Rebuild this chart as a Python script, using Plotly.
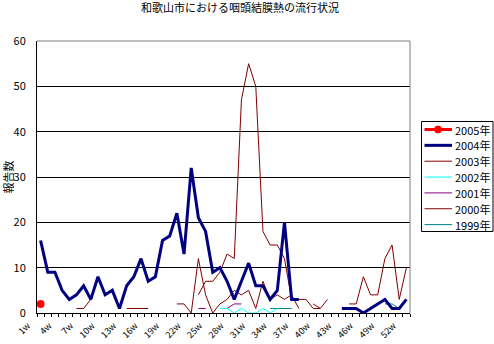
import plotly.graph_objects as go

weeks = list(range(1, 53))
week_labels = [f"{w}w" for w in weeks]
tick_weeks = weeks[::3]
tick_text = [week_labels[w - 1] for w in tick_weeks]

y2005 = [2] + [None] * 51
y2004 = [16, 9, 9, 5, 3, 4, 6, 3, 8, 4,
         5, 1, 6, 8, 12, 7, 8, 16, 17, 22,
         13, 32, 21, 18, 9, 10, 7, 3, 7, 11,
         6, 6, 3, 5, 20, 3, 3, None, None, None,
         None, None, 1, 1, 1, 0, 1, 2, 3, 1,
         1, 3]
y2003 = ([None] * 22 + [4, 7, 7, 9, 13, 12, 47, 55, 50, 18,
                        15, 15, 12, 3, 3, 3, 1, 1, 3] + [None] * 11)
y2002 = [None] * 25 + [1, 1, 0, 1, 0, 0, 1, 0, 1] + [None] * 18
y2001 = [None] * 22 + [1, 1, None, None, 1, 2, 2] + [None] * 23
y2000 = ([None] * 5 + [1, 1, 3] + [None] * 4 + [1, 1, 1, 1] + [None] * 3
         + [2, 2, 0, 12, 4, 0, 2, 3, 5, 4, 5, 1, 7, 3, 4, 3, 4, 1]
         + [None] + [2, 1] + [None] * 3 + [2, 2, 8, 4, 4, 12, 15, 3, 10])
y1999 = [None] * 32 + [1, 1, 1, 1] + [None] * 12 + [2, 2, 1] + [None]

# legend order (top to bottom)
series = [
    ("2005年", y2005, "#FF0000", 3, True),
    ("2004年", y2004, "#000080", 3, False),
    ("2003年", y2003, "#800000", 1, False),
    ("2002年", y2002, "#00FFFF", 1, False),
    ("2001年", y2001, "#800080", 1, False),
    ("2000年", y2000, "#800000", 1, False),
    ("1999年", y1999, "#008080", 1, False),
]

FONT = "Noto Sans CJK JP"
W, H = 494, 344
ML, MR, MT, MB = 37, 84, 41, 31
PW, PH = W - ML - MR, H - MT - MB


def px_x(px):
    return (px - ML) / PW


def px_y(py):
    return (H - MB - py) / PH


fig = go.Figure()
# draw older years first so recent years sit on top
for name, ys, color, width, mk in reversed(series):
    fig.add_trace(go.Scatter(
        x=weeks, y=ys, name=name,
        mode="lines+markers" if mk else "lines",
        line=dict(color=color, width=width),
        marker=dict(color=color, size=8, symbol="circle") if mk else None,
        connectgaps=False, showlegend=False,
    ))

fig.update_layout(
    width=W, height=H,
    margin=dict(l=ML, r=MR, t=MT, b=MB, autoexpand=False),
    paper_bgcolor="white", plot_bgcolor="white",
    font=dict(family=FONT, size=11, color="black"),
    title=dict(text="和歌山市における咽頭結膜熱の流行状況",
               x=0.486, xanchor="center", y=1 - 8 / H, yanchor="middle",
               yref="container",
               font=dict(family=FONT, size=11, color="black")),
    showlegend=False,
)

fig.update_xaxes(
    range=[0.5, 52.5], automargin=False,
    tickmode="array", tickvals=tick_weeks, ticktext=tick_text,
    tickangle=-45, ticks="",
    ticklabelshift=-13, ticklabelstandoff=3,
    tickfont=dict(family=FONT, size=9, color="black"),
    showline=True, linecolor="black", linewidth=1,
    showgrid=False, zeroline=False,
    minor=dict(tickmode="linear", tick0=0.5, dtick=1, ticks="outside",
               ticklen=3, tickcolor="black", tickwidth=1, showgrid=False),
)
fig.update_yaxes(
    range=[0, 60], dtick=10, tick0=0, automargin=False,
    showgrid=True, gridcolor="black", gridwidth=1,
    showline=True, linecolor="black", linewidth=1,
    zeroline=False, ticks="", ticklabelstandoff=8,
    tickfont=dict(family=FONT, size=11, color="black"),
    title=dict(text="報告数", standoff=9, font=dict(family=FONT, size=11, color="black")),
)

# plot-area border (grey top and right)
fig.add_shape(type="line", xref="paper", yref="paper", x0=0, x1=1, y0=1, y1=1,
              line=dict(color="#808080", width=1))
fig.add_shape(type="line", xref="paper", yref="paper", x0=1, x1=1, y0=0, y1=1,
              line=dict(color="#808080", width=1))

# custom legend box
LX0, LX1, LY0, LY1 = 421.5, 493.0, 121.5, 231.5
fig.add_shape(type="rect", xref="paper", yref="paper",
              x0=px_x(LX0), x1=px_x(LX1), y0=px_y(LY1), y1=px_y(LY0),
              line=dict(color="black", width=1), fillcolor="white", layer="above")
for i, (name, ys, color, width, mk) in enumerate(series):
    cy = 129.5 + 15.85 * i
    fig.add_shape(type="line", xref="paper", yref="paper",
                  x0=px_x(424.5), x1=px_x(452), y0=px_y(cy), y1=px_y(cy),
                  line=dict(color=color, width=width), layer="above")
    if mk:
        fig.add_shape(type="circle", xref="paper", yref="paper",
                      x0=px_x(434.5), x1=px_x(441.5), y0=px_y(cy + 3.5), y1=px_y(cy - 3.5),
                      line=dict(color=color, width=1), fillcolor=color, layer="above")
    fig.add_annotation(text=name, xref="paper", yref="paper",
                       x=px_x(453), y=px_y(cy), xanchor="left", yanchor="middle",
                       showarrow=False, font=dict(family=FONT, size=11, color="black"))

fig.write_html("out.html")
